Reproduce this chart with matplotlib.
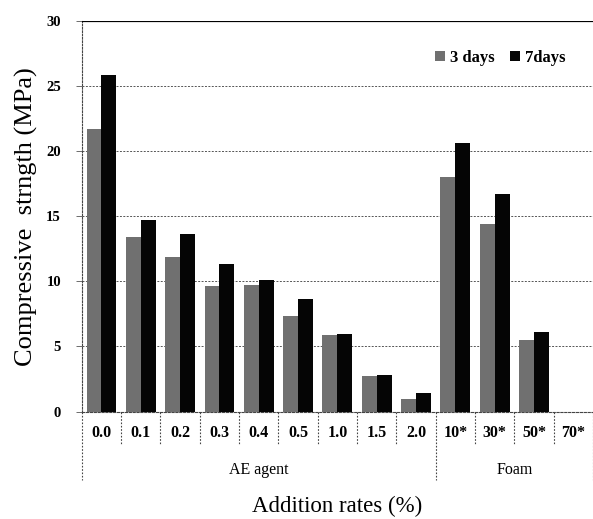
import numpy as np
import matplotlib.pyplot as plt
from matplotlib.transforms import blended_transform_factory

# values (MPa)
rates = ['0.0', '0.1', '0.2', '0.3', '0.4', '0.5', '1.0', '1.5', '2.0',
         '10*', '30*', '50*', '70*']
groups = ['AE agent', 'Foam']
group_sizes = [9, 4]
day3 = [21.7, 13.4, 11.85, 9.65, 9.7, 7.35, 5.9, 2.75, 1.0, 18.0, 14.4, 5.5, 0.0]
day7 = [25.8, 14.7, 13.6, 11.3, 10.1, 8.65, 5.95, 2.8, 1.45, 20.6, 16.7, 6.1, 0.0]

plt.rcParams['font.family'] = ['Liberation Serif', 'DejaVu Serif']

fig = plt.figure(figsize=(5.93, 5.19), dpi=100)
ax = fig.add_axes([0.138, 0.207, 0.862, 0.753])

x = np.arange(len(rates))
w = 0.38
ax.bar(x - w / 2, day3, w, color='#707070', label='3 days', zorder=3)
ax.bar(x + w / 2, day7, w, color='#050505', label='7days', zorder=3)

ax.set_xlim(-0.5, len(rates) - 0.5)
ax.set_ylim(0, 30)
ax.set_yticks([0, 5, 10, 15, 20, 25, 30])
for t in [5, 10, 15, 20, 25]:
    ax.axhline(t, color='#555555', lw=0.7, ls=(0, (2, 1.5)), zorder=1)
ax.axhline(30, color='black', lw=1.6, zorder=4)

ax.set_xticks([])
ax.tick_params(axis='y', length=4, width=0.6, color='#555555', labelsize=10.5,
               pad=11)
for lab in ax.get_yticklabels():
    lab.set_fontweight('bold')

for s in ['top', 'right']:
    ax.spines[s].set_visible(False)
ax.spines['left'].set_linestyle((0, (1.5, 1.5)))
ax.spines['left'].set_color('#444444')
ax.spines['left'].set_linewidth(0.8)
ax.spines['bottom'].set_linestyle((0, (2, 1.5)))
ax.spines['bottom'].set_color('#444444')
ax.spines['bottom'].set_linewidth(0.8)

# category table below axis
tr = blended_transform_factory(ax.transData, ax.transAxes)
for i, r in enumerate(rates):
    ax.text(i, -0.055, r, transform=tr, ha='center', va='center',
            fontsize=11.5, fontweight='bold')
edges = np.cumsum([0] + group_sizes) - 0.5
for b in np.arange(len(rates) + 1) - 0.5:
    bottom = -0.175 if b in edges else -0.085
    ax.plot([b, b], [0, bottom], transform=tr, clip_on=False,
            color='#444444', lw=0.8, ls=(0, (1.5, 1.5)))
for g, lo, hi in zip(groups, edges[:-1], edges[1:]):
    ax.text((lo + hi) / 2, -0.15, g, transform=tr, ha='center', va='center',
            fontsize=11.5)

ax.set_ylabel('Compressive  strngth (MPa)', fontsize=19, labelpad=6)
ax.text(0.5, -0.242, 'Addition rates (%)', transform=ax.transAxes,
        ha='center', va='center', fontsize=16.5)

ax.legend(loc='center right', bbox_to_anchor=(0.975, 0.905), frameon=False,
          ncol=2, handlelength=0.6, handleheight=0.6, handletextpad=0.3,
          columnspacing=0.9, prop={'weight': 'bold', 'size': 12})

fig.savefig('out.png', dpi=100)
